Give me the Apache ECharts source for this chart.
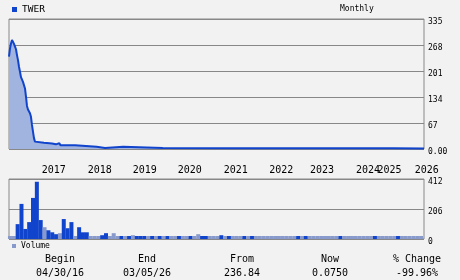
<!DOCTYPE html>
<html>
<head>
<meta charset="utf-8">
<script src="https://cdn.jsdelivr.net/npm/echarts@6/dist/echarts.min.js"></script>
<style>
html,body{margin:0;padding:0;background:#f2f2f2;}
#c{width:460px;height:280px;}
</style>
</head>
<body>
<div id="c"></div>
<script>
// ---- data ----
const ticker = 'TWER';
const period = 'Monthly';
// price: month offset since start (04/30/16) and close value
const priceX = [0,0.26,0.52,0.78,1.04,1.3,1.56,1.82,2.08,2.34,2.6,2.86,3.12,3.38,3.64,3.9,4.16,4.42,4.68,4.94,5.2,5.46,5.72,5.98,6.24,6.5,6.76,7.0,9.1,11.2,12.2,13.1,13.4,17.2,22.8,25.0,29.7,40,60,80,100,108];
const priceY = [238,259,272,281,277,271,264,257,242,229,212,199,185,180,173,169,156,135,111,102,98,92,83,62,45,28,19,16,14,12,15,12,9.5,6,2.6,6,2.6,2.2,2.0,1.8,1.5,1.2];
// monthly volume (thousands) and up/down flag
const volume = [
7,7,102,241,69,116,282,393,130,81,
60,46,33,40,137,74,116,19,81,46,
46,19,19,3,26,40,19,40,19,5,
12,5,26,5,3,3,4,5,5,5,
5,5,5,12,5,6,19,4,5,33,
5,12,5,5,5,26,19,4,5,5,
4,4,4,12,5,5,5,5,2,5,
5,5,3,5,5,5,5,5,5,5,
5,5,5,2,5,5,5,5,5,5,
2,2,2,5,5,5,5,5,5,5,
5,5,5,5,12,5,5,5];
const volUp = [
0,0,1,1,1,1,1,1,1,0,
1,1,1,0,1,1,1,0,1,1,
1,0,0,0,1,1,0,0,0,1,
0,1,0,1,1,1,0,1,0,1,
0,1,0,0,1,0,0,1,0,0,
1,1,0,0,0,1,0,1,0,0,
0,1,0,1,0,0,0,0,0,0,
0,0,0,0,0,1,0,1,0,0,
0,0,0,0,0,0,1,0,0,0,
0,0,0,0,0,1,0,0,0,0,
0,1,0,0,0,0,0,0];
const yearLabels = ['2017','2018','2019','2020','2021','2022','2023','2024','2025','2026'];
const yearPos = [8.5,20.5,32.2,43.9,55.9,67.7,78.3,90.3,95.9,105.6];
const priceTicks = [0,67,134,201,268,335];
const volTicks = [0,206,412];
const statLabels = ['Begin','End','From','Now','% Change'];
const statValues = ['04/30/16','03/05/26','236.84','0.0750','-99.96%'];

// ---- chart ----
const BLUE = '#1144cc', GRAY = '#8899cc', GRID = '#888888';
const MONO = '"DejaVu Sans Mono", monospace';
const chart = echarts.init(document.getElementById('c'), null, {renderer:'canvas'});

const priceData = priceX.map((x,i)=>[x, priceY[i]]);
const volData = volume.map((v,i)=>({value:[i+0.25, v], itemStyle:{color: volUp[i] ? BLUE : GRAY}}));
const statX = [60,147,242,330,417];
const graphics = [{type:'text', left:340, top:5, style:{text:period, font:'8px '+MONO, fill:'#000'}}];
statLabels.forEach((s,i)=>{
  graphics.push({type:'text', x:statX[i], y:259, style:{text:s, font:'10px '+MONO, fill:'#000', align:'center', verticalAlign:'middle'}});
  graphics.push({type:'text', x:statX[i], y:273, style:{text:statValues[i], font:'10px '+MONO, fill:'#000', align:'center', verticalAlign:'middle'}});
});

const yLabel = {margin:4, fontFamily:MONO, fontSize:8, color:'#000', verticalAlign:'top', lineHeight:6};

chart.setOption({
  animation:false,
  backgroundColor:'#f2f2f2',
  legend:[
    {data:[{name:ticker, icon:'rect'}], left:12, top:4.5, itemWidth:5, itemHeight:5, padding:0,
     textStyle:{fontFamily:MONO, fontSize:9.5, color:'#000'}},
    {data:[{name:'Volume', icon:'rect'}], left:12, top:242, itemWidth:4, itemHeight:4, padding:0,
     textStyle:{fontFamily:MONO, fontSize:8, color:'#000'}, itemStyle:{color:GRAY}}
  ],
  grid:[
    {left:9, top:19, width:415, height:130, show:true, borderColor:GRID, borderWidth:1, backgroundColor:'transparent'},
    {left:9, top:179, width:415, height:60, show:true, borderColor:GRID, borderWidth:1, backgroundColor:'transparent'}
  ],
  xAxis:[
    {type:'value', gridIndex:0, min:0, max:108, show:false},
    {type:'value', gridIndex:1, min:0, max:108, position:'top',
     axisLine:{show:false}, axisTick:{show:false}, splitLine:{show:false},
     axisLabel:{customValues:yearPos, hideOverlap:false, align:'left', verticalAlign:'middle', margin:9,
       fontFamily:MONO, fontSize:10, color:'#000',
       formatter:(v)=>{const k=yearPos.indexOf(v); return k>=0?yearLabels[k]:'';}}}
  ],
  yAxis:[
    {type:'value', gridIndex:0, position:'right', min:0, max:335, interval:67,
     axisLine:{show:false}, axisTick:{show:false},
     splitLine:{show:true, lineStyle:{color:GRID, width:1}},
     axisLabel:Object.assign({customValues:priceTicks, formatter:(v)=> v===0 ? '0.00' : String(v)}, yLabel)},
    {type:'value', gridIndex:1, position:'right', min:0, max:412, interval:206,
     axisLine:{show:false}, axisTick:{show:false},
     splitLine:{show:true, lineStyle:{color:GRID, width:1}},
     axisLabel:Object.assign({customValues:volTicks, formatter:(v)=>String(v)}, yLabel)}
  ],
  series:[
    {name:ticker, type:'line', xAxisIndex:0, yAxisIndex:0, data:priceData, step:'end',
     symbol:'none', lineStyle:{color:BLUE, width:2}, itemStyle:{color:BLUE},
     areaStyle:{color:'#a1b3df', opacity:1}},
    {name:'Volume', type:'bar', xAxisIndex:1, yAxisIndex:1, data:volData, barWidth:4, barMinHeight:3,
     itemStyle:{color:GRAY}}
  ],
  graphic:graphics
});
</script>
</body>
</html>
